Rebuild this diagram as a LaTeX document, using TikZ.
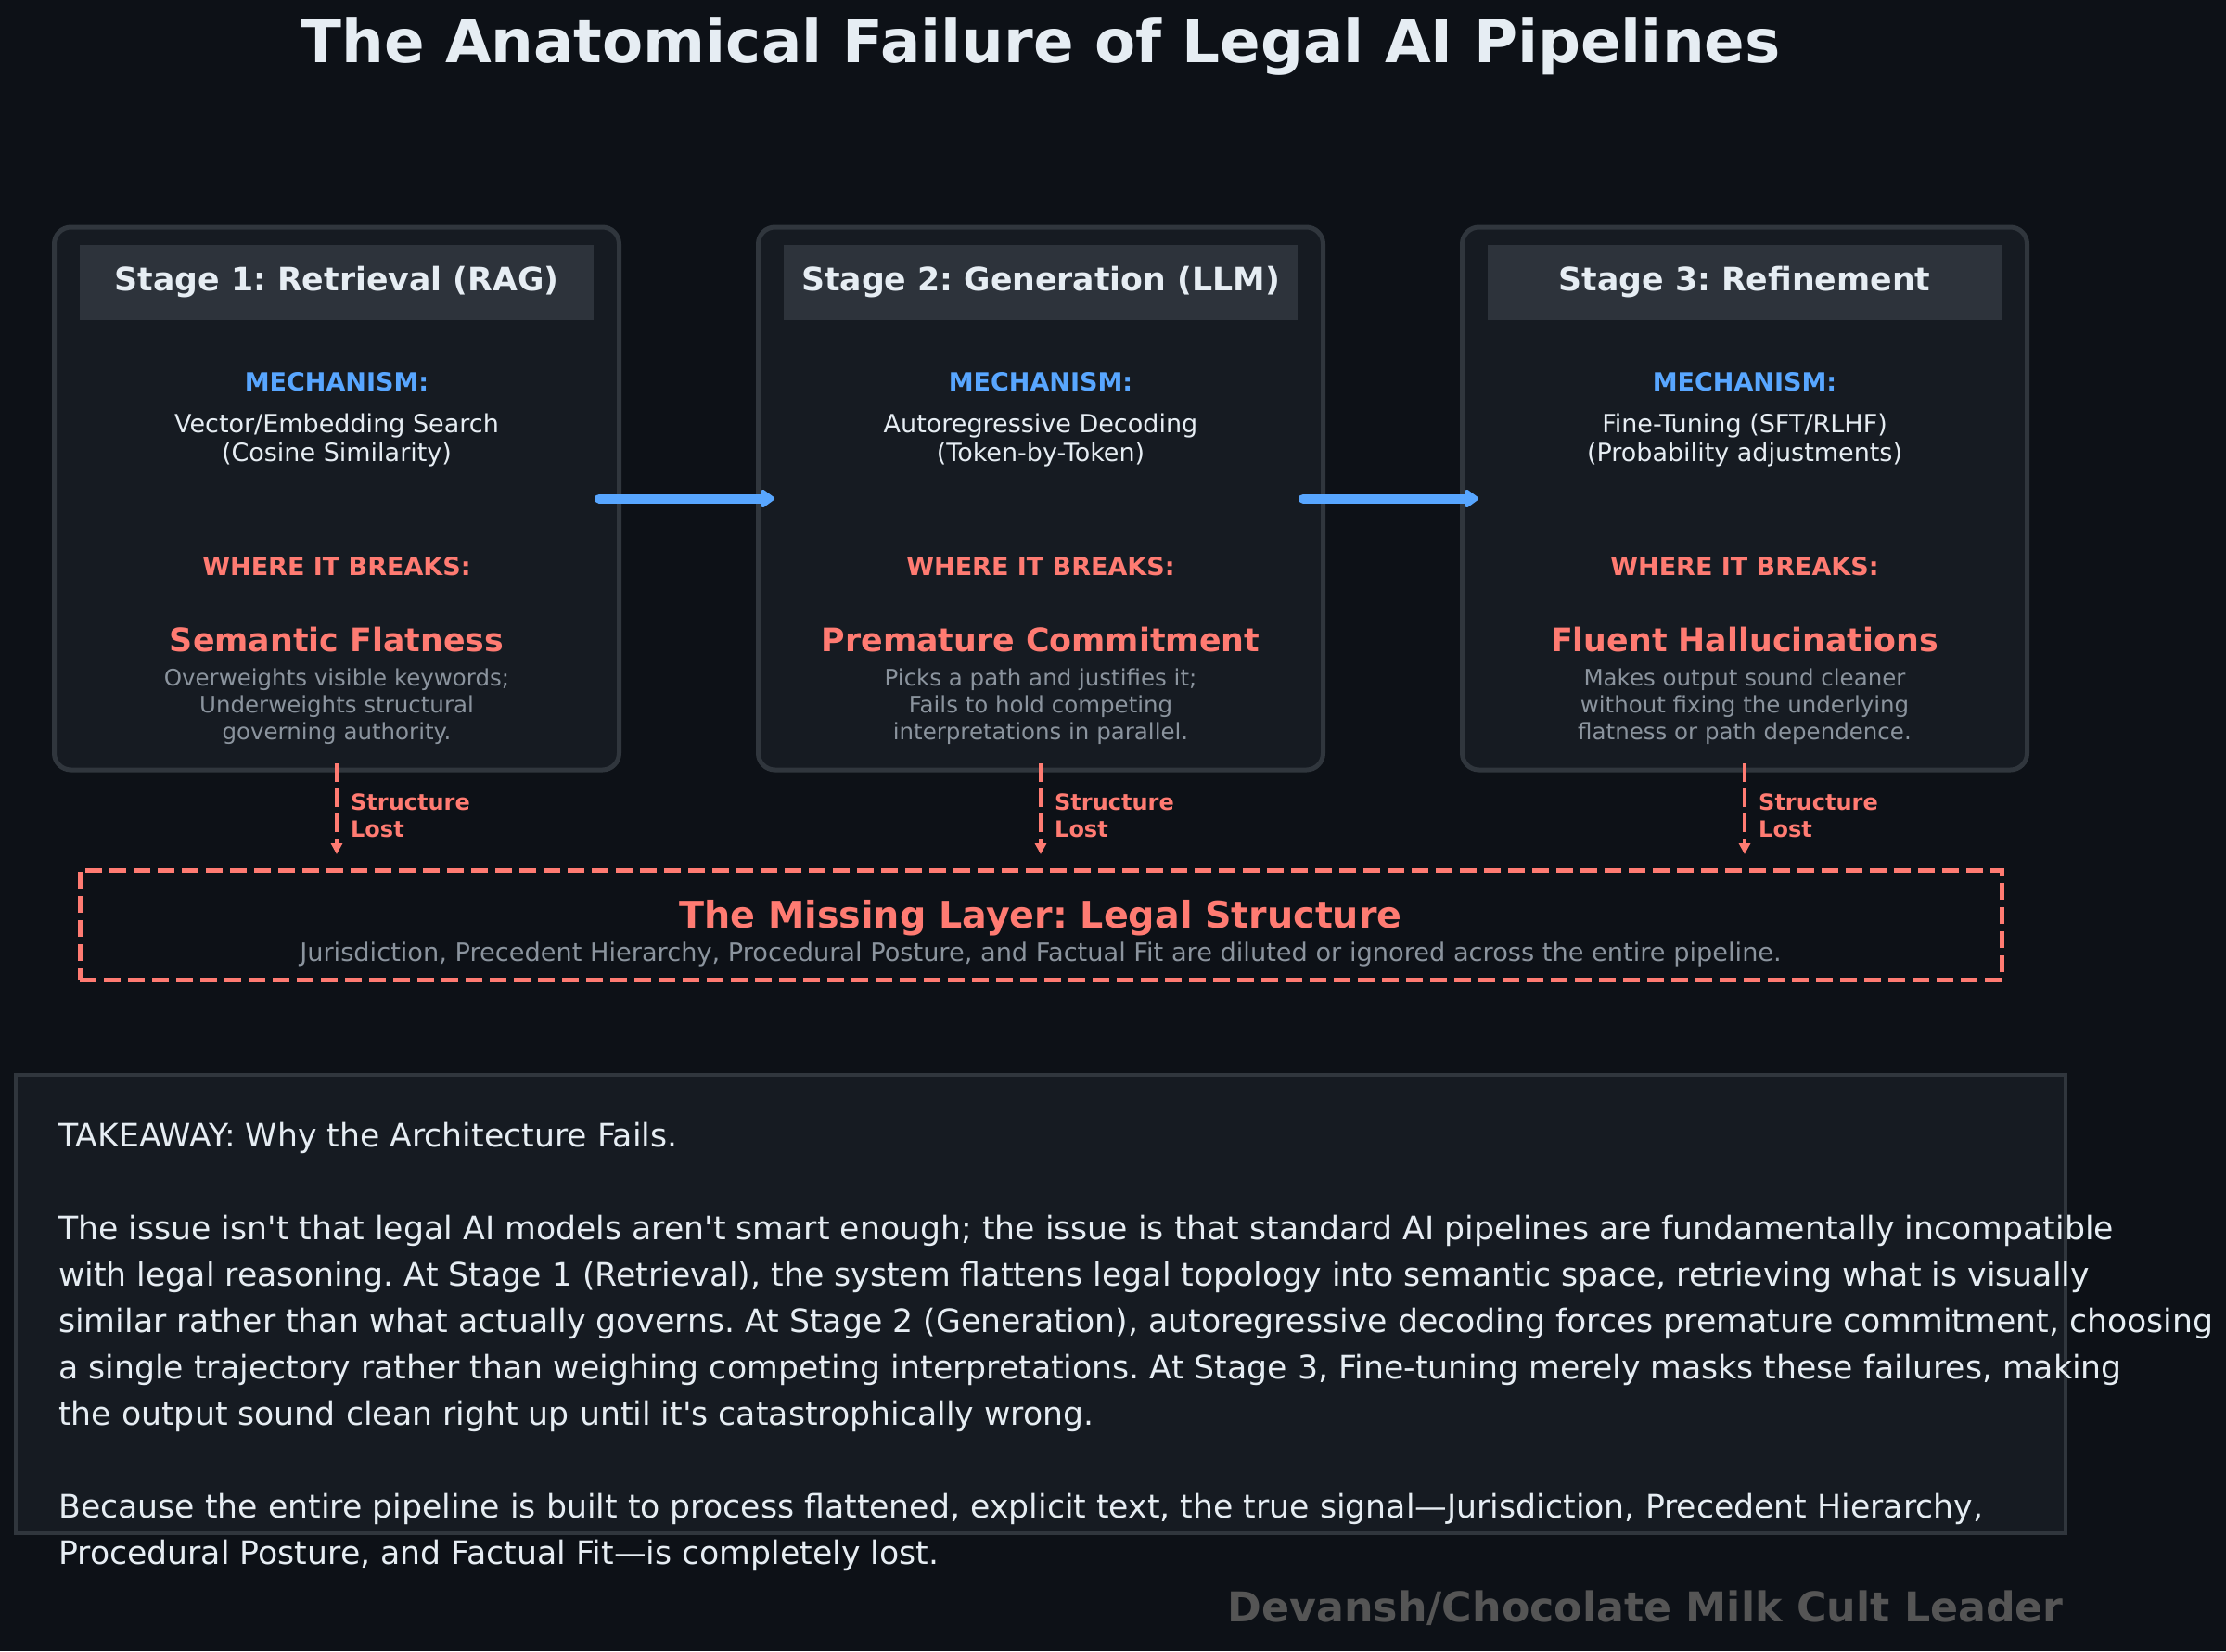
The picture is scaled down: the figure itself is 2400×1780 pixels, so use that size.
\documentclass[tikz,border=0pt]{standalone}
\usepackage{fontspec}
\setmainfont{DejaVu Sans}[Ligatures=TeXOff]
\usetikzlibrary{arrows.meta}
\frenchspacing

\definecolor{bgdark}{HTML}{0D1117}
\definecolor{cardfill}{HTML}{161B22}
\definecolor{cardline}{HTML}{30363D}
\definecolor{headfill}{HTML}{2D333B}
\definecolor{mechblue}{HTML}{58A6FF}
\definecolor{breakred}{HTML}{FF7B72}
\definecolor{textlight}{HTML}{E6EDF3}
\definecolor{textgray}{HTML}{8B949E}
\definecolor{signgray}{HTML}{555555}

\newcommand{\fsz}[2]{\fontsize{#1}{#2}\selectfont}

\begin{document}
\begin{tikzpicture}[x=1pt, y=-1pt,
    charttitle/.style={text=textlight, font=\bfseries\fsz{64.3}{70}, inner sep=0},
    stagebox/.style={draw=cardline, line width=5, fill=cardfill, rounded corners=18,
      minimum width=609, minimum height=585, outer sep=0, inner sep=0},
    stagehead/.style={fill=headfill, minimum width=554, minimum height=81, inner sep=0,
      text=textlight, font=\bfseries\fsz{34.7}{40}},
    mechlabel/.style={text=mechblue, font=\bfseries\fsz{27}{31}, inner sep=0},
    mechtext/.style={text=textlight, font=\fsz{27}{31}, align=center, inner sep=0},
    breaklabel/.style={text=breakred, font=\bfseries\fsz{27}{31}, inner sep=0},
    failname/.style={text=breakred, font=\bfseries\fsz{34.8}{40}, inner sep=0},
    faildesc/.style={text=textgray, font=\fsz{24.5}{29}, align=center, inner sep=0},
    flowarrow/.style={draw=mechblue, line width=10, line cap=round,
      -{Triangle[round, length=16pt, width=22pt]}},
    lostarrow/.style={draw=breakred, line width=4, dash pattern=on 20pt off 7pt,
      -{Triangle[length=12pt, width=12pt]}},
    lostlabel/.style={text=breakred, font=\bfseries\fsz{24}{29}, align=left,
      anchor=west, inner sep=0},
    missingbox/.style={draw=breakred, line width=5, dash pattern=on 18pt off 8pt,
      minimum width=2072, minimum height=118, outer sep=0, inner sep=0},
    missingtitle/.style={text=breakred, font=\bfseries\fsz{39.6}{46}, inner sep=0},
    missingsub/.style={text=textgray, font=\fsz{27.2}{30}, inner sep=0},
    takeawaybox/.style={draw=cardline, line width=4, fill=cardfill,
      minimum width=2210, minimum height=494, outer sep=0, inner sep=0},
    takeawaytext/.style={text=textlight, font=\fsz{34.7}{50}, align=left,
      anchor=west, inner sep=0},
    signature/.style={text=signgray, font=\bfseries\fsz{44.3}{50}, anchor=east, inner sep=0}]

  % fond
  \fill[bgdark] (0,0) rectangle (2400,1780);
  \useasboundingbox (0,0) rectangle (2400,1780);

  % titre
  \node[charttitle, anchor=base] (title) at (1122,67) {The Anatomical Failure of Legal AI Pipelines};

  % les trois étapes
  \foreach \n/\cx/\stagename/\mechtxt/\failtxt/\desctxt in {
      1/363/{Stage 1: Retrieval (RAG)}/{Vector/Embedding Search\\(Cosine Similarity)}/{Semantic Flatness}/{Overweights visible keywords;\\Underweights structural\\governing authority.},
      2/1122/{Stage 2: Generation (LLM)}/{Autoregressive Decoding\\(Token-by-Token)}/{Premature Commitment}/{Picks a path and justifies it;\\Fails to hold competing\\interpretations in parallel.},
      3/1881/{Stage 3: Refinement}/{Fine-Tuning (SFT/RLHF)\\(Probability adjustments)}/{Fluent Hallucinations}/{Makes output sound cleaner\\without fixing the underlying\\flatness or path dependence.}} {
    \node[stagebox] (card\n) at (\cx,537.5) {};
    \node[stagehead] (head\n) at (\cx,304.5) {\stagename};
    \node[mechlabel] (mech\n) at (\cx,411.5) {MECHANISM:};
    \node[mechtext] (mechtxt\n) at (\cx,474.5) {\mechtxt};
    \node[breaklabel] (brk\n) at (\cx,610.5) {WHERE IT BREAKS:};
    \node[failname] (fail\n) at (\cx,689.5) {\failtxt};
    \node[faildesc] (desc\n) at (\cx,762) {\desctxt};
  }

  % flèches du pipeline
  \draw[flowarrow] ([xshift=-21.5]card1.east) -- ([xshift=17.5]card2.west);
  \draw[flowarrow] ([xshift=-21.5]card2.east) -- ([xshift=17.5]card3.west);

  % couche manquante
  \node[missingbox] (missing) at (1122,997) {};
  \node[missingtitle] (missingtitle) at (1122,990) {The Missing Layer: Legal Structure};
  \node[missingsub] (missingsub) at (1122,1029) {Jurisdiction, Precedent Hierarchy, Procedural Posture, and Factual Fit are diluted or ignored across the entire pipeline.};

  % structure perdue
  \foreach \n in {1,2,3} {
    \draw[lostarrow] ([yshift=7]card\n.south) -- ([yshift=17]card\n.south |- missing.north);
    \node[lostlabel] (lost\n) at ([xshift=15,yshift=-49]card\n.south) {Structure\\Lost};
  }

  % conclusion
  \node[takeawaybox] (takeaway) at (1122,1406) {};
  \node[takeawaytext] (takeawaytxt) at (63,1451.5) {TAKEAWAY: Why the Architecture Fails.\\[50pt]
    The issue isn't that legal AI models aren't smart enough; the issue is that standard AI pipelines are fundamentally incompatible\\
    with legal reasoning. At Stage 1 (Retrieval), the system flattens legal topology into semantic space, retrieving what is visually\\
    similar rather than what actually governs. At Stage 2 (Generation), autoregressive decoding forces premature commitment, choosing\\
    a single trajectory rather than weighing competing interpretations. At Stage 3, Fine-tuning merely masks these failures, making\\
    the output sound clean right up until it's catastrophically wrong.\\[50pt]
    Because the entire pipeline is built to process flattened, explicit text, the true signal—Jurisdiction, Precedent Hierarchy,\\
    Procedural Posture, and Factual Fit—is completely lost.};

  % signature
  \node[signature] (sign) at (2225,1734) {Devansh/Chocolate Milk Cult Leader};
\end{tikzpicture}
\end{document}
